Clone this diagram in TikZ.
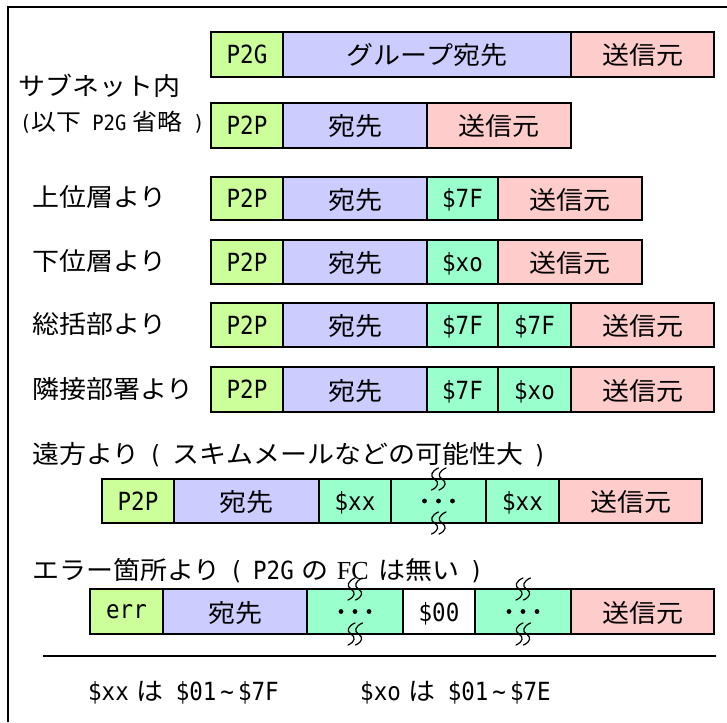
\documentclass[tikz,border=0pt]{standalone}
\usepackage{fontspec}
\newfontfamily\jpfont[FakeStretch=1.08]{Noto Sans CJK JP}
\newfontfamily\ltfont[FakeStretch=0.9]{DejaVu Sans Mono}
\newfontfamily\srfont{Liberation Serif}
\newcommand\jtxt[1]{{\jpfont\fontsize{25}{28}\selectfont #1}}
\newcommand\atxt[1]{{\ltfont\fontsize{25}{28}\selectfont #1}}
\newcommand\jsm[1]{{\jpfont\fontsize{23}{26}\selectfont #1}}
\newcommand\asm[1]{{\ltfont\fontsize{21}{26}\selectfont #1}}
\definecolor{cgreen}{RGB}{204,255,153}
\definecolor{cblue}{RGB}{204,204,255}
\definecolor{cpink}{RGB}{255,204,204}
\definecolor{cteal}{RGB}{153,255,204}
\tikzset{
  cellbox/.style={draw=black, line width=1.6pt, inner sep=0pt, outer sep=0pt, anchor=north west, text depth=0pt},
  lbl/.style={anchor=west, inner sep=0pt},
  frameline/.style={line width=2pt},
  squigline/.style={line width=1.2pt, line cap=round},
}
% name, fill, x1, x2, ytop, ybot, text
\newcommand\fcell[7]{\node[cellbox, fill=#2, minimum width=#4pt-#3pt, minimum height=#6pt-#5pt] (#1) at (#3,#5) {#7};}
\newcommand\squigat[1]{\foreach \dx in {-4,3.5}{\draw[squigline] ([shift={(\dx+4,-11)}]#1) .. controls ([shift={(\dx-3,-8)}]#1) and ([shift={(\dx-5,-3)}]#1) .. ([shift={(\dx,0)}]#1) .. controls ([shift={(\dx+5,3)}]#1) and ([shift={(\dx+4,8)}]#1) .. ([shift={(\dx-3,11)}]#1);}}
\newcommand\dotsin[1]{\foreach \dx in {-14,0,14}{\fill ([xshift=\dx pt]#1.center) circle (2.4pt);}}
\begin{document}
\begin{tikzpicture}[x=1pt,y=-1pt]
\useasboundingbox (0,0) rectangle (727,722);
\fill[white] (0,0) rectangle (727,722);
\draw[frameline] (8,722) -- (8,7) -- (727,7);

% Row 1
\fcell{r1a}{cgreen}{211}{283}{32}{77}{\atxt{P2G}}
\fcell{r1b}{cblue}{283}{571}{32}{77}{\jtxt{グループ宛先}}
\fcell{r1c}{cpink}{571}{714}{32}{77}{\jtxt{送信元}}
\node[lbl] (l1) at (18,86) {\jtxt{サブネット内}};
\node[lbl] (l2) at (20,122) {\asm{(}\jsm{以下}\hspace{11pt}\asm{P2G}\hspace{6pt}\jsm{省略}\hspace{11pt}\asm{)}};

% Row 2
\fcell{r2a}{cgreen}{211}{283}{103}{148}{\atxt{P2P}}
\fcell{r2b}{cblue}{283}{427}{103}{148}{\jtxt{宛先}}
\fcell{r2c}{cpink}{427}{571}{103}{148}{\jtxt{送信元}}

% Row 3
\node[lbl] (l3) at (32,197) {\jtxt{上位層より}};
\fcell{r3a}{cgreen}{211}{283}{177}{220}{\atxt{P2P}}
\fcell{r3b}{cblue}{283}{427}{177}{220}{\jtxt{宛先}}
\fcell{r3c}{cteal}{427}{498}{177}{220}{\atxt{\$7F}}
\fcell{r3d}{cpink}{498}{642}{177}{220}{\jtxt{送信元}}

% Row 4
\node[lbl] (l4) at (32,261) {\jtxt{下位層より}};
\fcell{r4a}{cgreen}{211}{283}{240}{284}{\atxt{P2P}}
\fcell{r4b}{cblue}{283}{427}{240}{284}{\jtxt{宛先}}
\fcell{r4c}{cteal}{427}{498}{240}{284}{\atxt{\$xo}}
\fcell{r4d}{cpink}{498}{642}{240}{284}{\jtxt{送信元}}

% Row 5
\node[lbl] (l5) at (32,324) {\jtxt{総括部より}};
\fcell{r5a}{cgreen}{211}{283}{303}{347}{\atxt{P2P}}
\fcell{r5b}{cblue}{283}{427}{303}{347}{\jtxt{宛先}}
\fcell{r5c}{cteal}{427}{498}{303}{347}{\atxt{\$7F}}
\fcell{r5d}{cteal}{498}{571}{303}{347}{\atxt{\$7F}}
\fcell{r5e}{cpink}{571}{714}{303}{347}{\jtxt{送信元}}

% Row 6
\node[lbl] (l6) at (32,389) {\jtxt{隣接部署より}};
\fcell{r6a}{cgreen}{211}{283}{367}{412}{\atxt{P2P}}
\fcell{r6b}{cblue}{283}{427}{367}{412}{\jtxt{宛先}}
\fcell{r6c}{cteal}{427}{498}{367}{412}{\atxt{\$7F}}
\fcell{r6d}{cteal}{498}{571}{367}{412}{\atxt{\$xo}}
\fcell{r6e}{cpink}{571}{714}{367}{412}{\jtxt{送信元}}

% Row 7
\node[lbl] (l7) at (32,455) {\jtxt{遠方より}\hspace{9pt}\atxt{(}\hspace{10pt}\jtxt{スキムメールなどの可能性大}\hspace{10pt}\atxt{)}};
\fcell{r7a}{cgreen}{102}{174}{479}{523}{\atxt{P2P}}
\fcell{r7b}{cblue}{174}{319}{479}{523}{\jtxt{宛先}}
\fcell{r7c}{cteal}{319}{391}{479}{523}{\atxt{\$xx}}
\fcell{r7d}{cteal}{391}{486}{479}{523}{}
\fcell{r7e}{cteal}{486}{559}{479}{523}{\atxt{\$xx}}
\fcell{r7f}{cpink}{559}{702}{479}{523}{\jtxt{送信元}}
\dotsin{r7d}
\squigat{r7d.north}
\squigat{r7d.south}

% Row 8
\node[lbl] (l8) at (32,571) {\jtxt{エラー箇所より}\hspace{9pt}\atxt{(}\hspace{10pt}\atxt{P2G}\hspace{8pt}\jtxt{の}\hspace{8pt}{\srfont\fontsize{26}{28}\selectfont FC}\hspace{10pt}\jtxt{は無い}\hspace{10pt}\atxt{)}};
\fcell{r8a}{cgreen}{90}{163}{589}{634}{\atxt{err}}
\fcell{r8b}{cblue}{163}{307}{589}{634}{\jtxt{宛先}}
\fcell{r8c}{cteal}{307}{403}{589}{634}{}
\fcell{r8d}{white}{403}{475}{589}{634}{\atxt{\$00}}
\fcell{r8e}{cteal}{475}{571}{589}{634}{}
\fcell{r8f}{cpink}{571}{714}{589}{634}{\jtxt{送信元}}
\dotsin{r8c}
\dotsin{r8e}
\squigat{r8c.north}
\squigat{r8c.south}
\squigat{r8e.north}
\squigat{r8e.south}

% separator and legend
\coordinate (s1) at (43,656);
\coordinate (s2) at (716,656);
\draw[line width=1.6pt] (s1) -- (s2);
\node[lbl] (n1) at (88,693) {\atxt{\$xx}\hspace{8pt}\jtxt{は}\hspace{12pt}\atxt{\$01}\hspace{4pt}\atxt{\textasciitilde}\hspace{4pt}\atxt{\$7F}};
\node[lbl] (n2) at (360,693) {\atxt{\$xo}\hspace{8pt}\jtxt{は}\hspace{12pt}\atxt{\$01}\hspace{4pt}\atxt{\textasciitilde}\hspace{4pt}\atxt{\$7E}};
\end{tikzpicture}
\end{document}
